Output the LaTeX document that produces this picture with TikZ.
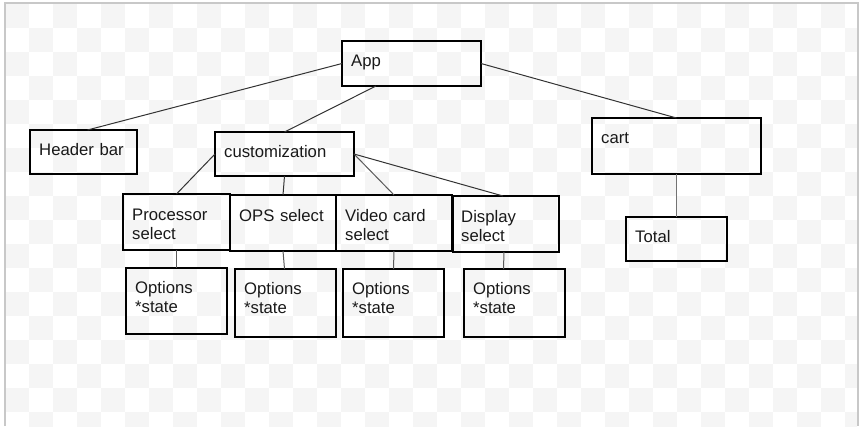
\documentclass[tikz,border=0pt]{standalone}
\usepackage{fontspec}
\setmainfont{Liberation Sans}
\usepackage{xcolor}
\definecolor{chkgray}{HTML}{F5F5F5}
\definecolor{framegray}{HTML}{C8C8C8}

\tikzset{
  box/.style={draw=black, line width=2pt, anchor=north west, inner sep=0pt, outer sep=0pt},
  txt/.style={anchor=base west, align=left, text width=120pt, inner sep=0pt, text=black!90,
    font=\fontsize{16.7}{19}\selectfont},
  link/.style={draw=black!80, line width=1pt},
}

\begin{document}
\begin{tikzpicture}[x=1pt, y=-1pt]
    \useasboundingbox (0,0) rectangle (862,426);
    % checker background
    \begin{scope}
    \clip (5,4) rectangle (857,426);
    \foreach \i in {0,...,35} {
      \foreach \j in {0,...,17} {
        \pgfmathtruncatemacro\sqpar{\i+\j}
        \ifodd\sqpar\else
          \fill[chkgray] (5+24*\i,4+24*\j) rectangle +(24,24);
        \fi
      }
    }
    \end{scope}
    \draw[framegray, line width=2pt] (5,426) -- (5,3) -- (858,3) -- (858,426);

    % boxes
    \node[box, minimum width=139, minimum height=45] (app) at (342,41) {};
    \node[box, minimum width=107, minimum height=44] (hdr) at (30,130) {};
    \node[box, minimum width=139, minimum height=44] (cust) at (215,132) {};
    \node[box, minimum width=169, minimum height=56] (cart) at (592,118) {};
    \node[box, minimum width=101, minimum height=44] (total) at (626,217) {};
    \node[box, minimum width=107, minimum height=56] (proc) at (123,194) {};
    \node[box, minimum width=106, minimum height=56] (ops) at (230,195) {};
    \node[box, minimum width=116, minimum height=56] (vid) at (336,195) {};
    \node[box, minimum width=106, minimum height=56] (disp) at (453,196) {};
    \node[box, minimum width=101, minimum height=66] (opt1) at (126,268) {};
    \node[box, minimum width=101, minimum height=68] (opt2) at (235,269) {};
    \node[box, minimum width=101, minimum height=68] (opt3) at (343,269) {};
    \node[box, minimum width=101, minimum height=68] (opt4) at (464,269) {};

    % connectors
    \draw[link] (app.west) -- ([xshift=4pt]hdr.north);
    \draw[link] ([xshift=34pt]app.south west) -- (cust.north);
    \draw[link] (app.east) -- (cart.north);
    \draw[link] (cust.west) -- (proc.north);
    \draw[link] (cust.south) -- (ops.north);
    \draw[link, draw=black!65] (cust.east) -- (vid.north);
    \draw[link] (cust.east) -- ([xshift=-3pt]disp.north);
    \draw[link, draw=black!55] (cart.south) -- (total.north);
    \draw[link, draw=black!65] (proc.south) -- (opt1.north);
    \draw[link, draw=black!65] (ops.south) -- ([xshift=-1pt]opt2.north);
    \draw[link, draw=black!65] (vid.south) -- (opt3.north);
    \draw[link, draw=black!65] ([xshift=-2pt]disp.south) -- ([xshift=-11pt]opt4.north);

    % texts
    \node[txt] (appT) at ([xshift=9pt, yshift=-25.5pt]app.north west) {App};
    \node[txt] (hdrT) at ([xshift=9pt, yshift=-25.5pt]hdr.north west) {Header bar};
    \node[txt] (custT) at ([xshift=9pt, yshift=-25.5pt]cust.north west) {customization};
    \node[txt] (cartT) at ([xshift=9pt, yshift=-25pt]cart.north west) {cart};
    \node[txt] (totalT) at ([xshift=9pt, yshift=-25.5pt]total.north west) {Total};
    \node[txt] (procT) at ([xshift=9pt, yshift=-26pt]proc.north west) {Processor\\select};
    \node[txt] (opsT) at ([xshift=9pt, yshift=-26pt]ops.north west) {OPS select};
    \node[txt] (vidT) at ([xshift=9pt, yshift=-26pt]vid.north west) {Video card\\select};
    \node[txt] (dispT) at ([xshift=8pt, yshift=-26pt]disp.north west) {Display\\select};
    \node[txt] (opt1T) at ([xshift=9pt, yshift=-25pt]opt1.north west) {Options\\{}*state};
    \node[txt] (opt2T) at ([xshift=9pt, yshift=-25pt]opt2.north west) {Options\\{}*state};
    \node[txt] (opt3T) at ([xshift=9pt, yshift=-25pt]opt3.north west) {Options\\{}*state};
    \node[txt] (opt4T) at ([xshift=9pt, yshift=-25pt]opt4.north west) {Options\\{}*state};
\end{tikzpicture}
\end{document}
